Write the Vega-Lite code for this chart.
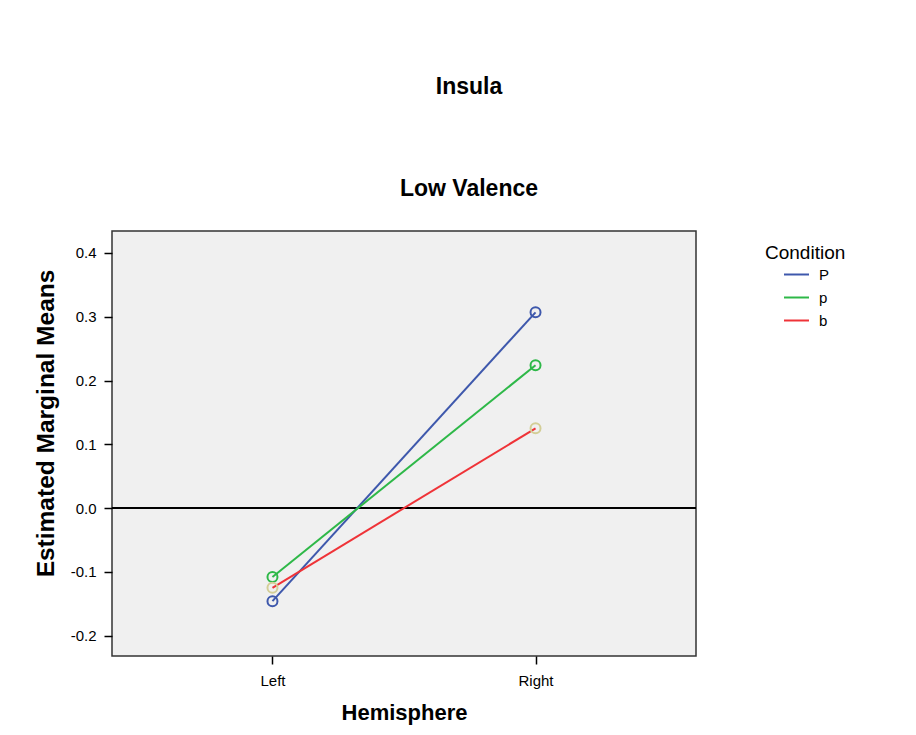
{
  "$schema": "https://vega.github.io/schema/vega-lite/v6.json",
  "padding": {"left": 33, "top": 76, "right": 5, "bottom": 5},
  "background": "white",
  "width": 584,
  "height": 425,
  "title": {
    "text": "Insula",
    "subtitle": "Low Valence",
    "anchor": "middle",
    "dx": 65,
    "offset": 30,
    "font": "Liberation Sans",
    "fontSize": 23,
    "fontWeight": "bold",
    "color": "black",
    "subtitleFont": "Liberation Sans",
    "subtitleFontSize": 23,
    "subtitleFontWeight": "bold",
    "subtitleColor": "black",
    "subtitlePadding": 79
  },
  "data": {
    "values": [
      {"Condition": "P", "Hemisphere": "Left", "Mean": -0.146},
      {"Condition": "P", "Hemisphere": "Right", "Mean": 0.307},
      {"Condition": "p", "Hemisphere": "Left", "Mean": -0.108},
      {"Condition": "p", "Hemisphere": "Right", "Mean": 0.224},
      {"Condition": "b", "Hemisphere": "Left", "Mean": -0.125},
      {"Condition": "b", "Hemisphere": "Right", "Mean": 0.125}
    ]
  },
  "encoding": {
    "x": {
      "field": "Hemisphere",
      "type": "nominal",
      "scale": {"type": "point", "padding": 0.61, "domain": ["Left", "Right"]},
      "axis": {
        "title": "Hemisphere",
        "labelAngle": 0,
        "tickSize": 8,
        "labelPadding": 9,
        "titlePadding": 14
      }
    },
    "y": {
      "field": "Mean",
      "type": "quantitative",
      "scale": {"domain": [-0.232, 0.4345], "nice": false, "zero": false},
      "axis": {
        "title": "Estimated Marginal Means",
        "titleFontSize": 24.5,
        "titleY": 192,
        "values": [-0.2, -0.1, 0, 0.1, 0.2, 0.3, 0.4],
        "format": ".1f",
        "tickSize": 8,
        "labelPadding": 8,
        "titlePadding": 12
      }
    }
  },
  "layer": [
    {
      "mark": {"type": "rule", "color": "black", "strokeWidth": 1.5},
      "encoding": {"y": {"datum": 0}, "x": null}
    },
    {
      "mark": {"type": "line", "strokeWidth": 2},
      "encoding": {
        "color": {
          "field": "Condition",
          "type": "nominal",
          "scale": {"domain": ["P", "p", "b"], "range": ["#3E58AC", "#2EB848", "#EF3338"]},
          "legend": {
            "title": "Condition",
            "orient": "right",
            "offset": 56,
            "padding": 13,
            "symbolType": "stroke",
            "symbolSize": 625,
            "symbolStrokeWidth": 2,
            "symbolOffset": 18,
            "labelOffset": 9,
            "rowPadding": 1,
            "titlePadding": -2
          }
        }
      }
    },
    {
      "mark": {"type": "point", "shape": "circle", "filled": false, "size": 100, "strokeWidth": 2, "opacity": 1},
      "encoding": {
        "stroke": {
          "field": "Condition",
          "type": "nominal",
          "scale": {"domain": ["P", "p", "b"], "range": ["#3E58AC", "#2EB848", "#D3CE97"]},
          "legend": null
        }
      }
    }
  ],
  "config": {
    "locale": {"number": {"decimal": ".", "thousands": ",", "grouping": [3], "currency": ["$", ""], "minus": "-"}},
    "font": "Liberation Sans",
    "view": {"fill": "#F0F0F0", "stroke": "#333333", "strokeWidth": 1.5},
    "axis": {
      "grid": false,
      "domain": false,
      "tickColor": "black",
      "tickWidth": 1.5,
      "labelFont": "Liberation Sans",
      "labelFontSize": 15,
      "labelColor": "black",
      "titleFont": "Liberation Sans",
      "titleFontSize": 22,
      "titleFontWeight": "bold",
      "titleColor": "black"
    },
    "legend": {
      "titleFont": "Liberation Sans",
      "titleFontSize": 19,
      "titleFontWeight": "normal",
      "titleColor": "black",
      "labelFont": "Liberation Sans",
      "labelFontSize": 15,
      "labelColor": "black"
    }
  }
}
